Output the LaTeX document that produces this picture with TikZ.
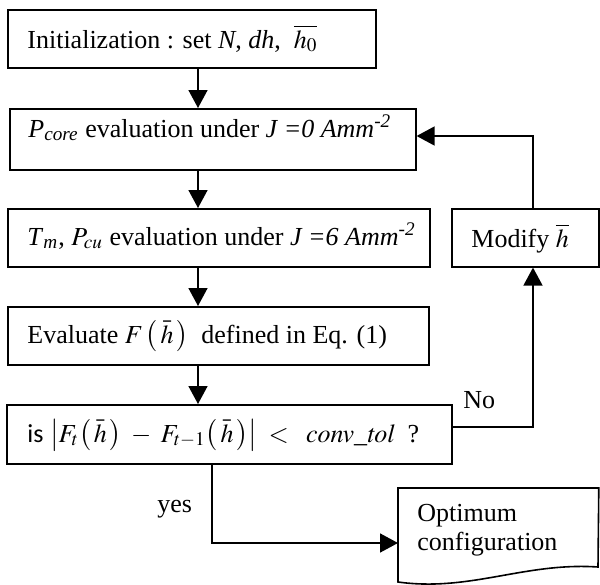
\documentclass[tikz,border=0pt]{standalone}
\usepackage{mathptmx}
\usepackage{amsmath}
\usepackage{fontspec}
\setmainfont{Liberation Serif}
\newfontfamily\carlitofont{Carlito}
\usetikzlibrary{arrows.meta}
\begin{document}
\begin{tikzpicture}[x=0.5pt,y=-0.5pt,
  every node/.style={font=\fontsize{13}{14.5}\selectfont},
  box/.style={draw,line width=0.8pt,inner sep=0pt,anchor=north west},
  txt/.style={inner sep=0pt,anchor=base west},
  conn/.style={line width=0.8pt,-{Triangle[length=9pt,width=9.5pt]}},
  plain/.style={line width=0.8pt}]
\useasboundingbox (0,0) rectangle (600,584);
% boxes
\node[box,minimum width=184pt,minimum height=29pt] (b1) at (7,9) {};
\node[box,minimum width=203pt,minimum height=30.5pt] (b2) at (9,108) {};
\node[box,minimum width=211pt,minimum height=29pt] (b3) at (7,208) {};
\node[box,minimum width=210.5pt,minimum height=29pt] (b4) at (7,306) {};
\node[box,minimum width=222.5pt,minimum height=29.5pt] (b5) at (6,404) {};
\node[box,minimum width=73.5pt,minimum height=29pt] (bm) at (451,208) {};
\node[inner sep=0pt,anchor=north west,minimum width=100pt,minimum height=47.5pt] (bo) at (398,488) {};
\draw[line width=0.8pt] (bo.north west) -- (bo.north east) -- (598,567)
  .. controls (525,562) and (470,592) .. (398,582) -- cycle;
% texts
\node[txt] (t1) at (27,48) {Initialization : set \textit{N}, \textit{dh}, \ $\overline{h_0}$};
\node[txt] (t2) at (28,137) {\textit{P}\textsubscript{\textit{core}} evaluation under \textit{J =0 Amm}\textsuperscript{\textit{-2}}};
\node[txt] (t3) at (27,245) {\textit{T}\textsubscript{\textit{m}}, $P_{cu}$ evaluation under \textit{J =6 Amm}\textsuperscript{\textit{-2}}};
\node[txt] (t4) at (27,343) {Evaluate $F\left(\,\bar{h}\,\right)$ \ defined in Eq. (1)};
\node[txt] (t5) at (27,442) {{\carlitofont is} $\left|F_t\!\left(\,\bar{h}\,\right)\;-\;F_{t-1}\!\left(\,\bar{h}\,\right)\right|\;<\;\;\mathit{conv\_tol}$ \ ?};
\node[txt] (tm) at (471,247) {Modify $\overline{h}$};
\node[txt] (to1) at (417,521) {Optimum};
\node[txt] (to2) at (417,550) {configuration};
\node[txt] (lno) at (463,408) {No};
\node[txt] (lyes) at (157,512) {yes};
% connectors
\coordinate (sp) at (198,0);
\draw[conn] (b1.south -| sp) -- (b2.north -| sp);
\draw[conn] (b2.south -| sp) -- (b3.north -| sp);
\draw[conn] (b3.south -| sp) -- (b4.north -| sp);
\draw[conn] (b4.south -| sp) -- (b5.north -| sp);
\coordinate (rx) at (533,427);
\draw[conn] (rx -| b5.east) -- (rx) -- (bm.south -| rx);
\coordinate (ty) at (533,136);
\draw[conn] (bm.north -| ty) -- (ty) -- (ty -| b2.east);
\coordinate (yc) at (212,543);
\draw[conn] (b5.south -| yc) -- (yc) -- (yc -| bo.west);
\end{tikzpicture}
\end{document}
